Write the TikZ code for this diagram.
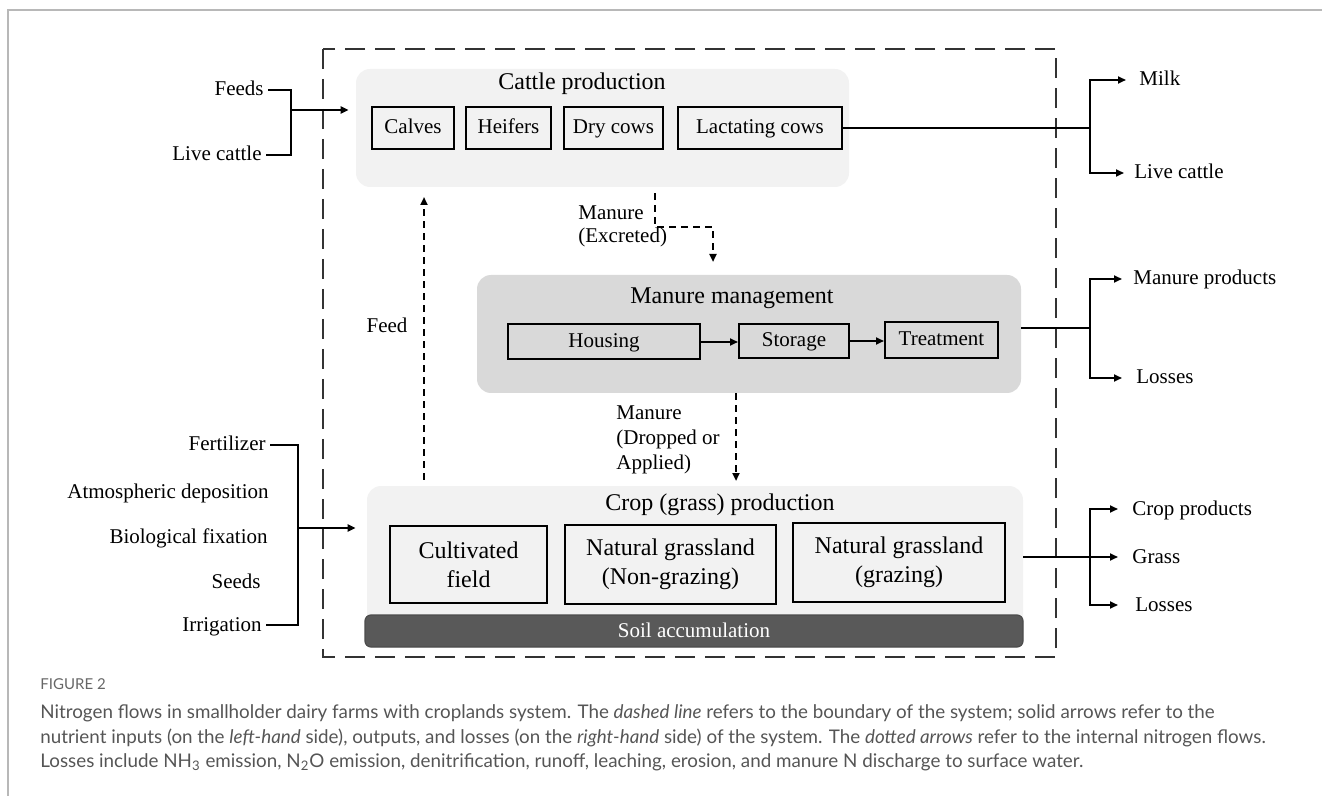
\documentclass[tikz,border=0pt]{standalone}
\usepackage{fontspec}
\setmainfont{Liberation Serif}
\newfontfamily\capfont{Lato}
\usetikzlibrary{arrows.meta,positioning}
\definecolor{panelfill}{HTML}{F2F2F2}
\definecolor{manurefill}{HTML}{D9D9D9}
\definecolor{soilfill}{HTML}{595959}
\definecolor{boundgray}{HTML}{333333}
\definecolor{capgray}{HTML}{555555}
\definecolor{framegray}{HTML}{B8B8B8}

\begin{document}
\begin{tikzpicture}[x=0.5pt, y=-0.5pt,
                    every node/.style = {font=\fontsize{10.5}{11.5}\selectfont, inner sep=2pt},
                    oneline/.style = {text height=8pt, text depth=2pt},
                    panel/.style = {rounded corners=7pt, inner sep=0pt},
                    title/.style = {font=\fontsize{12}{14}\selectfont},
                    unit/.style = {draw, line width=1pt, inner sep=0pt, align=center},
                    inlabel/.style = {anchor=east, oneline},
                    outlabel/.style = {anchor=west, inner sep=0pt, oneline},
                    link/.style = {line width=1pt},
                    flow/.style = {line width=1pt, -{Triangle[length=4pt,width=3.5pt]}},
                    intflow/.style = {line width=1pt, dash pattern=on 3.5pt off 2.5pt,
                        -{Triangle[length=4pt,width=3.5pt]}},
                    capline/.style = {font=\capfont\fontsize{9.4}{11}\selectfont, text=capgray,
                        anchor=west, inner sep=0pt}]
        \useasboundingbox (0,0) rectangle (1322,796);

        % page frame and system boundary
        \draw[framegray, line width=1pt] (8,796) -- (8,10) -- (1322,10);
        \draw[boundgray, line width=1pt, dash pattern=on 10pt off 5pt] (323,49) rectangle (1056,657);

        % cattle production
        \node[panel, fill=panelfill, minimum width=246.5pt, minimum height=59pt] (cattle) at (602.5,128) {};
        \node[title] (cattletitle) at (582,84) {Cattle production};
        \node[unit, oneline, minimum width=41pt, minimum height=21pt] (calves) at (413,128) {Calves};
        \node[unit, oneline, minimum width=42.5pt, minimum height=21pt] (heifers) at (508.5,128) {Heifers};
        \node[unit, oneline, minimum width=49.5pt, minimum height=21pt] (drycows) at (613.5,128) {Dry cows};
        \node[unit, oneline, minimum width=82pt, minimum height=21pt] (lactating) at (760,128) {Lactating cows};

        % manure management
        \node[panel, fill=manurefill, minimum width=272pt, minimum height=59pt] (manure) at (749,334) {};
        \node[title] (manuretitle) at (732,298) {Manure management};
        \node[unit, oneline, minimum width=96pt, minimum height=17.5pt] (housing) at (604,342) {Housing};
        \node[unit, oneline, minimum width=55pt, minimum height=17pt] (storage) at (794,341) {Storage};
        \node[unit, oneline, minimum width=56.5pt, minimum height=18pt] (treatment) at (941.5,340) {Treatment};
        \draw[flow] (housing.east) -- (housing.east -| storage.west);
        \draw[flow] (storage.east) -- (storage.east -| treatment.west);

        % crop (grass) production
        \node[panel, fill=panelfill, minimum width=328pt, minimum height=80.5pt] (crop) at (695,566.5) {};
        \node[title] (croptitle) at (720,505) {Crop (grass) production};
        \node[unit, font=\fontsize{12}{14.5}\selectfont, minimum width=78.5pt, minimum height=38.5pt] (cultivated) at (468.5,564.5) {Cultivated\\field};
        \node[unit, font=\fontsize{12}{14.5}\selectfont, minimum width=105.5pt, minimum height=39.5pt] (nongrazing) at (670.5,564.5) {Natural grassland\\(Non-grazing)};
        \node[unit, font=\fontsize{12}{14.5}\selectfont, minimum width=106pt, minimum height=39.5pt] (grazing) at (899,562.5) {Natural grassland\\(grazing)};
        \node[panel, oneline, rounded corners=3pt, fill=soilfill, draw=black!70, line width=0.6pt, text=white,
              minimum width=329pt, minimum height=16pt] (soil) at (694,631) {Soil accumulation};

        % inputs
        \node[inlabel] (feeds) at (268,90) {Feeds};
        \node[inlabel] (livein) at (266,155) {Live cattle};
        \coordinate (cattlein) at (291,110);
        \draw[link] (feeds.east) -| (cattlein) |- (livein.east);
        \draw[flow, shorten >=3.5pt] (cattlein) -- (cattlein -| cattle.west);

        \node[inlabel] (fertilizer) at (270,445) {Fertilizer};
        \node[inlabel] (deposition) at (273,492) {Atmospheric deposition};
        \node[inlabel] (fixation) at (272,537) {Biological fixation};
        \node[inlabel] (seeds) at (265,582) {Seeds};
        \node[inlabel] (irrigation) at (266,625) {Irrigation};
        \coordinate (cropin) at (298,528);
        \draw[link] (fertilizer.east) -| (cropin) |- (irrigation.east);
        \draw[flow, shorten >=5.5pt] (cropin) -- (cropin -| crop.west);

        % outputs
        \node[outlabel] (milk) at (1139,80) {Milk};
        \node[outlabel] (liveout) at (1134,173) {Live cattle};
        \coordinate (cattleout) at (1090,128);
        \draw[link] (lactating.east) -- (cattleout);
        \draw[flow, shorten >=6.5pt] (cattleout) |- (milk.west);
        \draw[flow, shorten >=5pt] (cattleout) |- (liveout.west);

        \node[outlabel] (manureprod) at (1133,279) {Manure products};
        \node[outlabel] (manureloss) at (1136,378) {Losses};
        \coordinate (manureout) at (1090,328);
        \draw[link] (manureout -| manure.east) -- (manureout);
        \draw[flow, shorten >=5.5pt] (manureout) |- (manureprod.west);
        \draw[flow, shorten >=7pt] (manureout) |- (manureloss.west);

        \node[outlabel] (cropprod) at (1132,509) {Crop products};
        \node[outlabel] (grass) at (1132,557) {Grass};
        \node[outlabel] (croploss) at (1135,605) {Losses};
        \coordinate (cropout) at (1090,557);
        \draw[link] (cropout -| crop.east) -- (cropout);
        \draw[flow, shorten >=7pt] (cropout) |- (cropprod.west);
        \draw[flow, shorten >=7pt] (cropout) -- (grass.west);
        \draw[flow, shorten >=8.5pt] (cropout) |- (croploss.west);

        % internal flows
        \coordinate (excreted) at (655,227);
        \coordinate (excretedend) at (713,262);
        \draw[intflow] ([yshift=-3pt]cattle.south -| excreted) -- (excreted) -| (excretedend);
        \node[anchor=west, align=left] (excretedlabel) at (574,226.5) {Manure\\(Excreted)};

        \coordinate (feedend) at (424,197);
        \draw[intflow] ([yshift=3pt]crop.north -| feedend) -- (feedend);
        \node[oneline] (feedlabel) at (387,327) {Feed};

        \coordinate (appliedend) at (736,481);
        \draw[intflow] (manure.south -| appliedend) -- (appliedend);
        \node[anchor=west, align=left, font=\fontsize{10.5}{12.5}\selectfont] (appliedlabel) at (612,440) {Manure\\(Dropped or\\Applied)};

        % caption
        \node[capline, font=\capfont\fontsize{7.5}{9}\selectfont, text=black!60] (figlabel) at (40,684) {FIGURE 2};
        \node[capline] (capline1) at (40,713) {Nitrogen flows in smallholder dairy farms with croplands system. The \textit{dashed line} refers to the boundary of the system; solid arrows refer to the};
        \node[capline] (capline2) at (40,738) {nutrient inputs (on the \textit{left-hand} side), outputs, and losses (on the \textit{right-hand} side) of the system. The \textit{dotted arrows} refer to the internal nitrogen flows.};
        \node[capline] (capline3) at (40,762) {Losses include NH\textsubscript{3} emission, N\textsubscript{2}O emission, denitrification, runoff, leaching, erosion, and manure N discharge to surface water.};

\end{tikzpicture}
\end{document}
